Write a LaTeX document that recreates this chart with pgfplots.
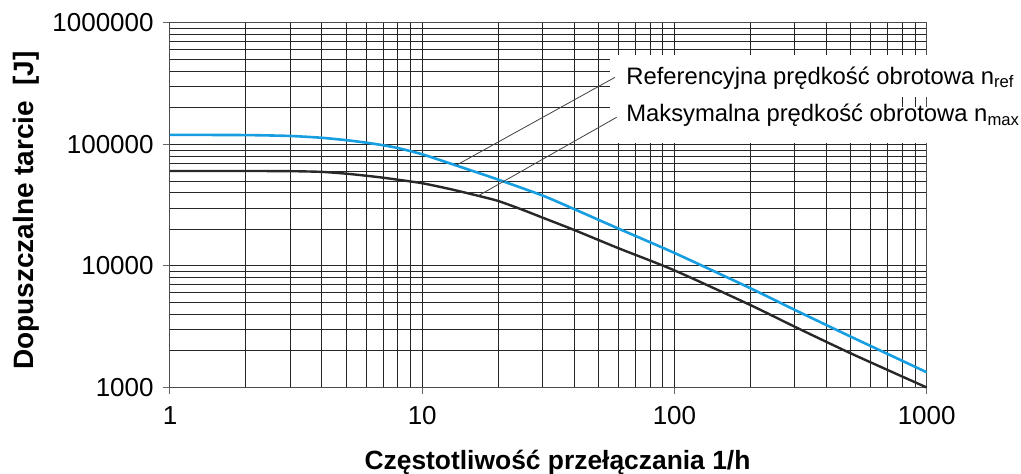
\documentclass[border=0pt]{standalone}
\usepackage{pgfplots}
\pgfplotsset{compat=1.18}
\usepackage{fontspec}
\setmainfont{Liberation Sans}
\definecolor{curveblue}{RGB}{22,158,224}
\definecolor{curvedark}{RGB}{40,40,40}
\begin{document}
\begin{tikzpicture}
\path[use as bounding box] (-85pt,-43.25pt) rectangle (425.5pt,193.75pt);
\begin{axis}[
  at={(0pt,0pt)}, anchor=south west,
  width=378.35pt, height=182.25pt, scale only axis,
  xmode=log, ymode=log, log basis x=10, log basis y=10,
  xmin=1, xmax=1000, ymin=1000, ymax=1000000,
  xtick={1,10,100,1000}, xticklabels={1,10,100,1000},
  ytick={1000,10000,100000,1000000}, yticklabels={1000,10000,100000,1000000},
  minor xtick={2,3,4,5,6,7,8,9,20,30,40,50,60,70,80,90,200,300,400,500,600,700,800,900},
  minor ytick={2000,3000,4000,5000,6000,7000,8000,9000,20000,30000,40000,50000,60000,70000,80000,90000,200000,300000,400000,500000,600000,700000,800000,900000},
  grid=both,
  major grid style={black!85, line width=0.5pt},
  minor grid style={black!85, line width=0.5pt},
  tick pos=left, tick align=outside,
  major tick length=3.5pt, minor tick length=0pt,
  major tick style={black!60, line width=0.5pt},
  axis line style={black!70, line width=0.5pt},
  ticklabel style={font=\fontsize{13}{15}\selectfont, inner sep=0pt},
  xticklabel style={anchor=north, yshift=-5.75pt},
  yticklabel style={anchor=east, xshift=-4.5pt},
  clip=false,
]
\addplot[draw=none, forget plot] coordinates {(1,1000)};
\fill[white] (rel axis cs:0.5815,0.9122) rectangle (rel axis cs:1.1246,0.797);
\fill[white] (rel axis cs:0.5815,0.7695) rectangle (rel axis cs:1.1246,0.6708);
\fill[white] (rel axis cs:0.5815,0.8025) rectangle (rel axis cs:0.9647,0.764);

\addplot[curveblue, line width=1.3pt, smooth, tension=0.4] coordinates {
(1,120000) (2,119500) (3,117500) (4,113500) (5,108500) (6,103500) (7,98500) (8,93500)
(10,83000) (14,66000) (20,51400) (30,38000) (40,29400) (60,20300) (100,12800)
(200,6560) (300,4350) (500,2620) (1000,1335)};
\addplot[curvedark, line width=1.2pt, smooth, tension=0.4] coordinates {
(1,60500) (2,60500) (3,60300) (4,59500) (5,57500) (6,55300) (7,53300) (8,51300)
(10,48000) (13,42800) (16.6,37900) (20,34300) (25,29000) (30,25000) (40,19800) (60,14000)
(100,9200) (200,4770) (300,3160) (500,1910) (1000,1000)};

\draw[black!75, line width=0.4pt] (axis cs:13.7,67800) -- (axis cs:58.1,357000);
\draw[black!75, line width=0.4pt] (axis cs:16.7,37900) -- (axis cs:59,167500);

\node[anchor=base west, inner sep=0pt, font=\fontsize{11.9}{13}\selectfont]
  at (rel axis cs:0.6026,0.8326) {Referencyjna prędkość obrotowa n\textsubscript{ref}};
\node[anchor=base west, inner sep=0pt, font=\fontsize{11.9}{13}\selectfont]
  at (rel axis cs:0.6026,0.7292) {Maksymalna prędkość obrotowa n\textsubscript{max}};
\end{axis}
\node[rotate=90, anchor=base, inner sep=0pt, font=\bfseries\fontsize{14}{16}\selectfont]
  at (-68.35pt,88.5pt) {Dopuszczalne tarcie\hspace{0.55em}[J]};
\node[anchor=base, inner sep=0pt, font=\bfseries\fontsize{13.2}{15}\selectfont]
  at (193.75pt,-41.25pt) {Częstotliwość przełączania 1/h};
\end{tikzpicture}
\end{document}
